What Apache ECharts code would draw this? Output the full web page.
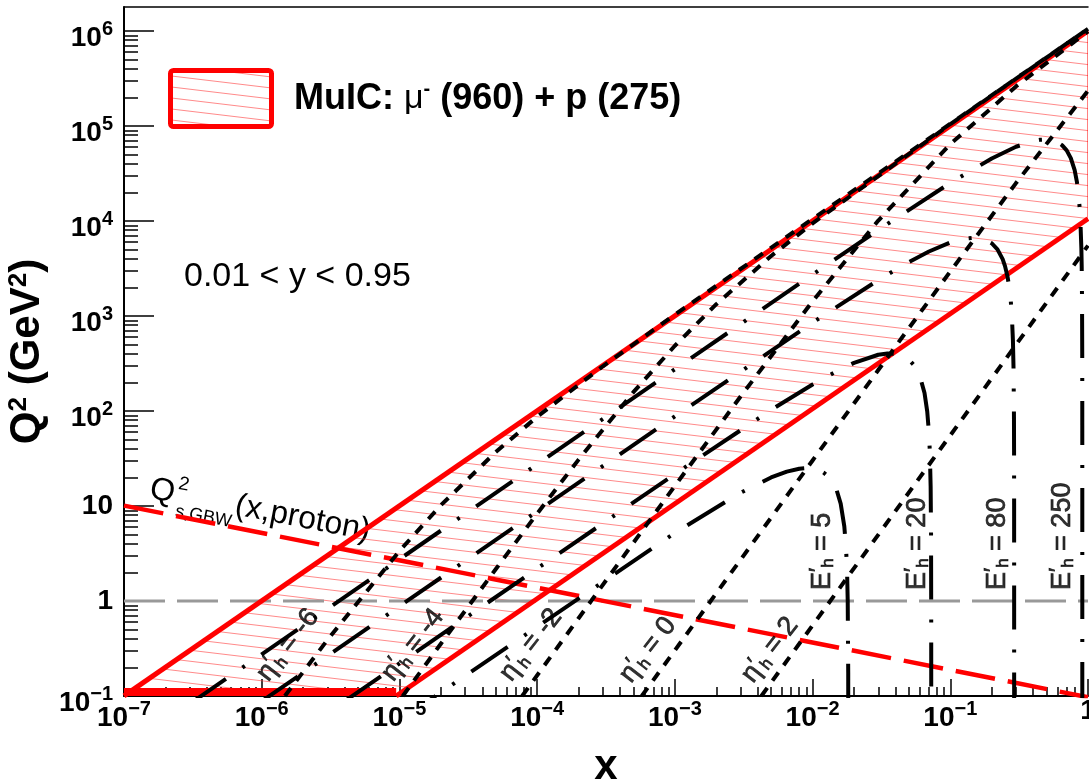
<!DOCTYPE html>
<html>
<head>
<meta charset="utf-8">
<script src="https://cdn.jsdelivr.net/npm/echarts@6/dist/echarts.min.js"></script>
<style>
html, body { margin: 0; padding: 0; background: #fff; }
#chart { width: 1089px; height: 782px; }
</style>
</head>
<body>
<div id="chart"></div>
<script>
const FONT = '"Liberation Sans", Arial, Helvetica, sans-serif'

// axis ticks
const xTickValues = [1e-7, 1e-6, 1e-5, 1e-4, 1e-3, 1e-2, 1e-1, 1]
const xTickLabels = ['10^\u22127', '10^\u22126', '10^\u22125', '10^\u22124', '10^\u22123', '10^\u22122', '10^\u22121', '1']
const yTickValues = [1e-1, 1, 10, 1e2, 1e3, 1e4, 1e5, 1e6]
const yTickLabels = ['10^\u22121', '1', '10', '10^2', '10^3', '10^4', '10^5', '10^6']
const minorSteps = [2, 3, 4, 5, 6, 7, 8, 9]

// kinematic band 0.01 < y < 0.95 (x, Q2)
const yHighLine = [[1e-7, 0.1003], [1, 1.0032e6]]
const yLowLine = [[9.47e-6, 0.1], [1, 1.056e4]]
const q2MinLine = [[1e-7, 0.1], [9.47e-6, 0.1]]
const bandPolygon = [[1e-7, 0.1003], [1, 1.0032e6], [1, 1.056e4], [9.47e-6, 0.1], [1e-7, 0.1]]

// saturation scale and Q2 = 1
const q2sGBW = [[1e-7, 10.1], [1, 0.097]]
const q2One = [[1e-7, 1], [1, 1]]

// constant hadron pseudorapidity
const etaM6 = [[1.473e-6, 0.1], [3e-6, 0.389], [1e-5, 3.36], [2e-5, 10.2], [5e-5, 36.9], [1e-4, 87.0], [3e-4, 295.7], [1e-3, 1034], [1e-2, 10537], [1, 1.056e6]]
const etaM4 = [[1.058e-5, 0.1], [2e-5, 0.355], [5e-5, 2.16], [1e-4, 8.31], [2e-4, 30.8], [5e-4, 158], [1e-3, 486], [2e-3, 1332], [5e-3, 4278], [1e-2, 9453], [0.1, 1.0438e5], [1, 1.0548e6]]
const etaM2 = [[7.786e-5, 0.1], [2e-4, 0.659], [5e-4, 4.10], [1e-3, 16.26], [3e-3, 142.0], [1e-2, 1428], [3e-2, 10117], [0.1, 64415], [0.3, 2.6114e5], [1, 9.9254e5]]
const eta0 = [[5.75e-4, 0.1], [1e-3, 0.302], [3e-3, 2.72], [1e-2, 30.16], [3e-2, 269.9], [0.1, 2941], [0.3, 25070], [1, 2.3514e5]]
const eta2 = [[4.248e-3, 0.1], [1e-2, 0.554], [0.1, 55.38], [0.3, 497.9], [1, 5512]]

// constant hadron energy
const eh5 = [[1e-5, 0.055], [1e-3, 5.20], [3e-3, 13.79], [5e-3, 19.96], [6.5e-3, 23.01], [8e-3, 24.70], [9e-3, 25.06], [1e-2, 24.82], [1.1e-2, 23.97], [1.2e-2, 22.52], [1.3e-2, 20.45], [1.4e-2, 17.78], [1.5e-2, 14.50], [1.6e-2, 10.61], [1.7e-2, 6.11], [1.75e-2, 3.63], [1.78e-2, 2.07], [1.8e-2, 0.995], [1.815e-2, 0.176], [1.818e-2, 0.0101]]
const eh20 = [[4e-6, 0.088], [1e-4, 2.197], [1e-3, 21.70], [5e-3, 102.6], [1e-2, 190.3], [1.5e-2, 263.1], [2e-2, 320.8], [3e-2, 391.1], [3.5e-2, 403.5], [4e-2, 400.6], [4.5e-2, 382.4], [5e-2, 348.7], [5.5e-2, 299.7], [6e-2, 235.0], [6.5e-2, 154.8], [6.8e-2, 99.17], [7e-2, 58.93], [7.1e-2, 37.87], [7.2e-2, 16.17], [7.25e-2, 5.09], [7.27e-2, 0.6125], [7.2726e-2, 0.0286]]
const eh80 = [[1e-6, 0.088], [1e-4, 8.797], [1e-3, 87.72], [1e-2, 852.2], [3e-2, 2388], [5e-2, 3697], [7e-2, 4774], [0.1, 5945], [0.125, 6506], [0.15, 6681], [0.175, 6460], [0.2, 5834], [0.22, 5036], [0.24, 3969], [0.25, 3332], [0.26, 2627], [0.268, 2012], [0.275, 1437], [0.28, 1005], [0.285, 554.7], [0.288, 276.2], [0.29, 86.98], [0.2905, 39.21], [0.2908, 10.47], [0.2909, 0.873], [0.2909085, 0.056]]
const eh250 = [[3e-7, 0.0825], [1e-4, 27.50], [1e-3, 274.8], [1e-2, 2728], [3e-2, 8047], [0.1, 25197], [0.2, 45507], [0.3, 60472], [0.4, 69572], [0.45, 71743], [0.5, 72219], [0.55, 70917], [0.6, 67743], [0.65, 62600], [0.7, 55380], [0.75, 45970], [0.8, 34249], [0.83, 26052], [0.85, 20084], [0.87, 13703], [0.88, 10354], [0.895, 5130], [0.9, 3335], [0.905, 1512], [0.908, 405.0], [0.9085, 219.5], [0.9089, 70.97], [0.909, 33.80], [0.90905, 15.21], [0.909085, 2.197], [0.9090905, 0.152], [0.90909088, 0.0108]]

// curve labels
const etaLabelPos = [[1.55e-6, 0.344], [1.256e-5, 0.344], [9.03e-5, 0.344], [6.38e-4, 0.305], [4.91e-3, 0.305]]
const etaLabelText = ['-6', '-4', '-2', '0', '2']
const ehLabelPos = [[0.01172, 1.306], [0.0574, 1.306], [0.2188, 1.306], [0.648, 1.306]]
const ehLabelText = ['5', '20', '80', '250']

// hatch fill
function makeHatch() {
  const c = document.createElement('canvas')
  c.width = 92
  c.height = 11
  const ctx = c.getContext('2d')
  ctx.strokeStyle = 'rgba(255,60,60,0.6)'
  ctx.lineWidth = 1
  for (let k = -1; k <= 1; k++) {
    ctx.beginPath()
    ctx.moveTo(0, k * 11 + 0.5)
    ctx.lineTo(92, k * 11 + 11.5)
    ctx.stroke()
  }
  return { image: c, repeat: 'repeat' }
}
const hatch = makeHatch()

function tickFormatter(values, labels) {
  return function (value) {
    const i = values.findIndex(v => Math.abs(Math.log10(v / value)) < 1e-6)
    if (i < 0) return ''
    const parts = labels[i].split('^')
    return parts.length > 1 ? `{b|${parts[0]}}{s|${parts[1]}}` : `{p|${parts[0]}}`
  }
}
const tickRich = {
  b: { fontFamily: FONT, fontWeight: 'bold', fontSize: 28, lineHeight: 30, padding: [14, 0, 0, 0], color: '#000' },
  s: { fontFamily: FONT, fontWeight: 'bold', fontSize: 20, lineHeight: 30, padding: [3, 0, 0, 0], verticalAlign: 'top', color: '#000' },
  p: { fontFamily: FONT, fontWeight: 'bold', fontSize: 28, lineHeight: 30, color: '#000' }
}
const inkBorder = { color: '#000', textBorderColor: '#000', textBorderWidth: 0.7 }
const labelRich = {
  g: Object.assign({ fontFamily: FONT, fontSize: 27, lineHeight: 30 }, inkBorder),
  q: Object.assign({ fontFamily: FONT, fontSize: 22, lineHeight: 30, verticalAlign: 'top' }, inkBorder),
  h: Object.assign({ fontFamily: FONT, fontSize: 17, lineHeight: 18, verticalAlign: 'bottom' }, inkBorder),
  t: Object.assign({ fontFamily: FONT, fontSize: 27, lineHeight: 30 }, inkBorder)
}

const xMinor = xTickValues.slice(0, -1).flatMap(d => minorSteps.map(m => m * d))
const yMinor = yTickValues.flatMap(d => minorSteps.map(m => m * d))

const X_MIN = 1e-7, X_MAX = 1, Y_MIN = 0.1, Y_MAX = 1.79e6

function lineSeries(data, color, width, type, z) {
  return {
    type: 'line', data, showSymbol: false, symbol: 'none', silent: true,
    xAxisIndex: 0, yAxisIndex: 0, z,
    lineStyle: { color, width, type }
  }
}
function labelSeries(pos, text, letter, rotate, align) {
  return {
    type: 'scatter', silent: true, z: 10, symbolSize: 1,
    itemStyle: { color: 'rgba(0,0,0,0)' },
    data: pos.map((p, i) => ({ value: p, name: text[i] })),
    label: {
      show: true, position: 'inside', rotate, align, verticalAlign: 'middle',
      color: '#000',
      formatter: p => `{g|${letter}}{q|\u2032}{h|h}{t| = ${p.name}}`,
      rich: labelRich
    }
  }
}

const chart = echarts.init(document.getElementById('chart'))
const option = {
  animation: false,
  backgroundColor: '#fff',
  grid: { left: 124, right: 1, top: 7, bottom: 86, outerBoundsMode: 'none', containLabel: false },
  xAxis: [
    {
      type: 'log', min: X_MIN, max: X_MAX, position: 'bottom',
      axisLine: { show: true, onZero: false, lineStyle: { color: '#000', width: 2 } },
      axisTick: { show: true, inside: true, length: 17, customValues: xTickValues, lineStyle: { color: '#000', width: 1.5 } },
      axisLabel: { customValues: xTickValues, margin: 0, formatter: tickFormatter(xTickValues, xTickLabels), rich: tickRich },
      splitLine: { show: false },
      name: 'x', nameLocation: 'middle', nameGap: 50,
      nameTextStyle: { fontFamily: FONT, fontWeight: 'bold', fontSize: 42, color: '#000' }
    },
    {
      type: 'log', min: X_MIN, max: X_MAX, position: 'bottom',
      axisLine: { show: false, onZero: false },
      axisTick: { show: true, inside: true, length: 9, customValues: xMinor, lineStyle: { color: '#000', width: 1.5 } },
      axisLabel: { show: false }, splitLine: { show: false }
    },
    {
      type: 'log', min: X_MIN, max: X_MAX, position: 'top',
      axisLine: { show: true, onZero: false, lineStyle: { color: '#000', width: 1.5 } },
      axisTick: { show: false }, axisLabel: { show: false }, splitLine: { show: false }
    }
  ],
  yAxis: [
    {
      type: 'log', min: Y_MIN, max: Y_MAX, position: 'left',
      axisLine: { show: true, onZero: false, lineStyle: { color: '#000', width: 2 } },
      axisTick: { show: true, inside: true, length: 30, customValues: yTickValues, lineStyle: { color: '#000', width: 1.5 } },
      axisLabel: { customValues: yTickValues, margin: 11, formatter: tickFormatter(yTickValues, yTickLabels), rich: tickRich },
      splitLine: { show: false },
      name: '{b|Q}{s|2}{b| (GeV}{s|2}{b|)}', nameLocation: 'middle', nameRotate: 90, nameGap: 64,
      nameTextStyle: {
        rich: {
          b: { fontFamily: FONT, fontWeight: 'bold', fontSize: 42, lineHeight: 42, color: '#000' },
          s: { fontFamily: FONT, fontWeight: 'bold', fontSize: 26, lineHeight: 22, verticalAlign: 'top', color: '#000' }
        }
      }
    },
    {
      type: 'log', min: Y_MIN, max: Y_MAX, position: 'left',
      axisLine: { show: false, onZero: false },
      axisTick: { show: true, inside: true, length: 14, customValues: yMinor, lineStyle: { color: '#000', width: 1.5 } },
      axisLabel: { show: false }, splitLine: { show: false }
    }
  ],
  series: [
    {
      type: 'custom', coordinateSystem: 'cartesian2d', xAxisIndex: 0, yAxisIndex: 0,
      data: [[1e-3, 1]], clip: true, silent: true, z: 1,
      renderItem: (params, api) => ({
        type: 'group',
        children: [
          {
            type: 'polygon',
            shape: { points: bandPolygon.map(p => api.coord(p)) },
            style: { fill: hatch, stroke: '#ff0000', lineWidth: 1 }
          },
          {
            type: 'polyline',
            shape: { points: q2MinLine.map(p => api.coord(p)) },
            style: { fill: null, stroke: '#ff0000', lineWidth: 16 }
          }
        ]
      })
    },
    lineSeries(q2One, '#999999', 3, [41, 12], 2),
    lineSeries(yHighLine, '#ff0000', 5, 'solid', 3),
    lineSeries(yLowLine, '#ff0000', 5, 'solid', 3),
    lineSeries(q2sGBW, '#ff0000', 4.5, [40, 13], 4),
    lineSeries(etaM6, '#000', 4, [10, 9], 5),
    lineSeries(etaM4, '#000', 4, [10, 9], 5),
    lineSeries(etaM2, '#000', 4, [10, 9], 5),
    lineSeries(eta0, '#000', 4, [10, 9], 5),
    lineSeries(eta2, '#000', 4, [10, 9], 5),
    lineSeries(eh5, '#000', 4, [44, 20, 3, 20], 5),
    lineSeries(eh20, '#000', 4, [44, 20, 3, 20], 5),
    lineSeries(eh80, '#000', 4, [44, 20, 3, 20], 5),
    lineSeries(eh250, '#000', 4, [44, 20, 3, 20], 5),
    labelSeries(etaLabelPos, etaLabelText, '\u03b7', 52, 'center'),
    labelSeries(ehLabelPos, ehLabelText, 'E', 90, 'left')
  ],
  graphic: [
    {
      type: 'rect', z: 20,
      shape: { x: 170.5, y: 70.5, width: 101, height: 56, r: 3 },
      style: { fill: hatch, stroke: '#ff0000', lineWidth: 5 }
    },
    {
      type: 'text', z: 20, x: 294, y: 99,
      style: {
        text: '{b|MuIC: }{m|\u03bc}{u|-}{b| (960) + p (275)}',
        verticalAlign: 'middle',
        rich: {
          b: { fontFamily: FONT, fontWeight: 'bold', fontSize: 36, lineHeight: 40, fill: '#000' },
          m: { fontFamily: FONT, fontSize: 34, lineHeight: 40, fill: '#000' },
          u: { fontFamily: FONT, fontWeight: 'bold', fontSize: 20, lineHeight: 24, verticalAlign: 'top', fill: '#000' }
        }
      }
    },
    {
      type: 'text', z: 20, x: 184, y: 277,
      style: { text: '0.01 < y < 0.95', font: '34px ' + FONT, fill: '#000', verticalAlign: 'middle' }
    },
    {
      type: 'group', z: 20, x: 148, y: 500, rotation: -0.19,
      children: [
        { type: 'text', x: 0, y: -11, style: { text: 'Q', font: '32px ' + FONT, fill: '#000', verticalAlign: 'middle' } },
        { type: 'text', x: 27, y: -22, style: { text: '2', font: '19px ' + FONT, fill: '#000', verticalAlign: 'middle' } },
        { type: 'text', x: 29, y: 6, style: { text: 's,GBW', font: '18px ' + FONT, fill: '#000', verticalAlign: 'middle' } },
        { type: 'text', x: 87, y: -11, style: { text: '(x,proton)', font: '32px ' + FONT, fill: '#000', verticalAlign: 'middle' } }
      ]
    }
  ]
}
chart.setOption(option)
</script>
</body>
</html>
